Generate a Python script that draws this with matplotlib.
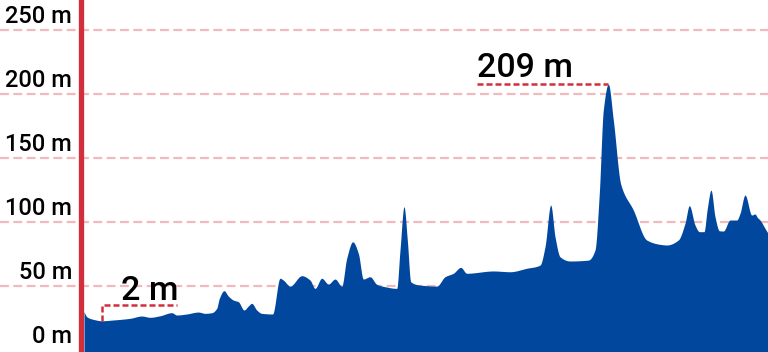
"""Elevation profile: filled area with min/max callouts."""
import numpy as np
import matplotlib.pyplot as plt

# distance along the route (km) and elevation (m)
distance_km = [
    0.1, 0.37, 1.03, 1.87, 3.0, 4.7, 5.87, 6.7, 7.7, 8.87, 9.37, 10.37, 11.53,
    12.2, 12.87, 13.37, 13.63, 14.1, 14.53, 15.03, 15.53, 16.1, 16.53, 16.87,
    17.37, 17.87, 18.95, 19.7, 20.03, 20.7, 21.87, 22.7, 23.2, 23.87, 24.53,
    25.2, 25.87, 26.37, 26.97, 27.53, 28.03, 28.7, 29.37, 30.2, 31.37, 31.7,
    32.1, 32.43, 32.77, 33.7, 35.37, 36.2, 37.03, 37.77, 38.37, 41.03, 42.7,
    44.37, 45.7, 46.2, 46.77, 47.2, 47.7, 48.7, 50.53, 51.2, 51.63, 52.03,
    52.53, 53.03, 53.77, 55.03, 56.37, 57.7, 58.37, 59.53, 60.2, 60.63, 61.2,
    61.63, 62.1, 62.43, 62.8, 63.2, 63.63, 64.03, 64.7, 65.37, 65.7, 66.2,
    66.87, 67.2, 67.43, 67.7, 68.2, 68.5,
]
elevation_m = [
    30.2, 26.3, 24.2, 23.1, 23.7, 25.0, 26.8, 25.8, 27.0, 29.4, 27.6, 28.4, 29.9,
    28.9, 29.4, 32.8, 40.6, 46.6, 42.4, 39.3, 38.0, 31.5, 34.6, 36.7,
    31.5, 28.9, 28.4, 56.3, 54.9, 50.2, 58.3, 54.9, 48.4, 56.3, 51.8,
    55.7, 50.2, 71.9, 84.8, 75.8, 55.7, 57.5, 51.6, 49.7, 48.4, 78.4,
    112.2, 86.2, 53.6, 51.0, 50.2, 57.5, 60.2, 64.8, 60.2, 62.0, 61.4,
    64.1, 66.6, 80.9, 113.5, 88.8, 73.1, 69.8, 70.5, 78.4, 122.7, 187.7,
    208.0, 180.0, 129.9, 109.6, 86.2, 82.8, 82.3, 86.2, 99.2, 113.0, 97.9,
    92.7, 92.7, 110.9, 125.2, 104.4, 93.4, 93.2, 101.8, 101.8, 107.0, 121.3,
    105.7, 106.5, 103.9, 101.8, 95.3, 91.4,
]
y_ticks = [0, 50, 100, 150, 200, 250]
y_tick_labels = ["0 m", "50 m", "100 m", "150 m", "200 m", "250 m"]
min_label = "2 m"
max_label = "209 m"

AREA = "#02479e"
RED = "#d22f3b"
GRID = "#f2b9bd"


def pchip(xs, ys, xq):
    # monotone cubic (Fritsch-Carlson) so the profile looks smooth without overshoot
    h = np.diff(xs)
    d = np.diff(ys) / h
    m = np.zeros_like(ys)
    for k in range(1, len(xs) - 1):
        if d[k - 1] * d[k] > 0:
            w1 = 2 * h[k] + h[k - 1]
            w2 = h[k] + 2 * h[k - 1]
            m[k] = (w1 + w2) / (w1 / d[k - 1] + w2 / d[k])
    m[0], m[-1] = d[0], d[-1]
    idx = np.clip(np.searchsorted(xs, xq) - 1, 0, len(xs) - 2)
    t = (xq - xs[idx]) / h[idx]
    h00 = 2 * t**3 - 3 * t**2 + 1
    h10 = t**3 - 2 * t**2 + t
    h01 = -2 * t**3 + 3 * t**2
    h11 = t**3 - t**2
    return (h00 * ys[idx] + h10 * h[idx] * m[idx]
            + h01 * ys[idx + 1] + h11 * h[idx] * m[idx + 1])


plt.rcParams["font.family"] = ["Roboto", "DejaVu Sans"]

fig = plt.figure(figsize=(7.68, 3.52), dpi=100)
ax = fig.add_axes([0, 0, 1, 1])

x = np.array(distance_km)
y = np.array(elevation_m)
xf = np.linspace(x[0], x[-1], 2000)
yf = pchip(x, y, xf)

for t in y_ticks[1:]:
    ax.axhline(t, color=GRID, lw=1.6, dashes=(4.0, 2.0), zorder=1)
ax.fill_between(xf, yf, -5, color=AREA, lw=0, zorder=2)
ax.axvline(-0.25, color=RED, lw=3.8, zorder=5)

ax.set_xlim(-8.3, 68.5)
ax.set_ylim(-1.3, 273.7)
ax.axis("off")

for t, lab in zip(y_ticks, y_tick_labels):
    ax.annotate(lab, xy=(-1.1, t), xytext=(0, 5.2), textcoords="offset points",
                ha="right", va="baseline", fontsize=17, color="black",
                fontweight="medium")

# minimum callout
i_min = int(np.argmin(y))
min_top = 35.8
min_end = 9.4
ax.plot([x[i_min], x[i_min], min_end], [y[i_min], min_top, min_top],
        color=RED, lw=1.8, dashes=(2.4, 1.2), zorder=4)
ax.annotate(min_label, xy=(min_end, min_top), xytext=(1, 3.3),
            textcoords="offset points", ha="right", va="baseline",
            fontsize=24.5, color="black", fontweight="medium")

# maximum callout
i_max = int(np.argmax(y))
max_start = 39.4
ax.plot([max_start, x[i_max]], [y[i_max], y[i_max]],
        color=RED, lw=1.8, dashes=(2.4, 1.2), zorder=4)
ax.annotate(max_label, xy=(max_start, y[i_max]), xytext=(0, 5),
            textcoords="offset points", ha="left", va="baseline",
            fontsize=24.5, color="black", fontweight="medium")

fig.savefig("out.png", dpi=100)
